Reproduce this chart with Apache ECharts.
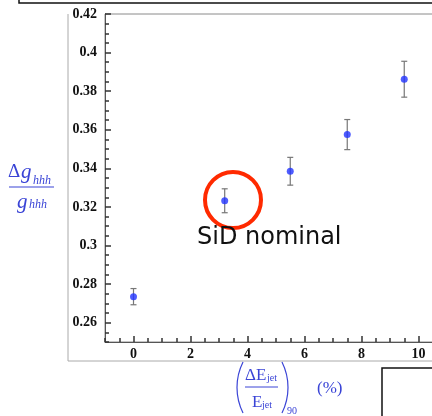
<!DOCTYPE html>
<html>
<head>
<meta charset="utf-8">
<script src="https://cdn.jsdelivr.net/npm/echarts@6/dist/echarts.min.js"></script>
<style>
  html, body { margin: 0; padding: 0; background: #fff; }
  #chart { width: 432px; height: 416px; }
</style>
</head>
<body>
<div id="chart"></div>
<script>
// jet energy resolution (%) vs relative error on g_hhh
var resolution = [0, 3.2, 5.5, 7.5, 9.5];
var deltaG = [0.2735, 0.3232, 0.3385, 0.3575, 0.3862];
var errors = [0.0042, 0.0062, 0.0072, 0.0078, 0.0093];
var xTickLabels = [0, 2, 4, 6, 8, 10];
var yTickLabels = [0.26, 0.28, 0.3, 0.32, 0.34, 0.36, 0.38, 0.4, 0.42];

var chart = echarts.init(document.getElementById('chart'));

var points = resolution.map(function (x, i) { return [x, deltaG[i]]; });
var bars = resolution.map(function (x, i) { return [x, deltaG[i], errors[i]]; });

var blue = '#3a44d6';
var serif = 'Liberation Serif';
var tickColor = '#333';

var option = {
  animation: false,
  grid: {
    left: 105, top: 14, width: 342, height: 328,
    outerBoundsMode: 'none',
    show: true, borderColor: '#8a8a8a'
  },
  xAxis: [{
    type: 'value', min: -1, max: 11, position: 'bottom',
    axisLine: { onZero: false, lineStyle: { color: '#555' } },
    axisTick: { show: true, inside: true, length: 6, customValues: xTickLabels, lineStyle: { color: tickColor, width: 1.5 } },
    axisLabel: {
      customValues: xTickLabels, margin: 5,
      fontFamily: serif, fontWeight: 'bold', fontSize: 14, color: '#111'
    },
    splitLine: { show: false }
  }, {
    type: 'value', min: -1, max: 11, interval: 0.5, position: 'bottom',
    axisLine: { show: false, onZero: false },
    axisTick: { show: true, inside: true, length: 4, lineStyle: { color: tickColor, width: 1.5 } },
    axisLabel: { show: false },
    splitLine: { show: false }
  }],
  yAxis: [{
    type: 'value', min: 0.25, max: 0.42, position: 'left',
    axisLine: { show: true, onZero: false, lineStyle: { color: '#555' } },
    axisTick: { show: true, inside: true, length: 6, customValues: yTickLabels, lineStyle: { color: tickColor, width: 1.5 } },
    axisLabel: {
      customValues: yTickLabels, margin: 8,
      fontFamily: serif, fontWeight: 'bold', fontSize: 14, color: '#111'
    },
    splitLine: { show: false }
  }, {
    type: 'value', min: 0.25, max: 0.42, interval: 0.005, position: 'left',
    axisLine: { show: false, onZero: false },
    axisTick: { show: true, inside: true, length: 4, lineStyle: { color: tickColor, width: 1.5 } },
    axisLabel: { show: false },
    splitLine: { show: false }
  }],
  series: [{
    type: 'custom',
    data: bars,
    renderItem: function (params, api) {
      var x = api.value(0), y = api.value(1), e = api.value(2);
      var top = api.coord([x, y + e]);
      var bot = api.coord([x, y - e]);
      var st = { stroke: '#777', lineWidth: 1.2 };
      return {
        type: 'group',
        children: [
          { type: 'line', shape: { x1: top[0], y1: top[1], x2: bot[0], y2: bot[1] }, style: st },
          { type: 'line', shape: { x1: top[0] - 3, y1: top[1], x2: top[0] + 3, y2: top[1] }, style: st },
          { type: 'line', shape: { x1: bot[0] - 3, y1: bot[1], x2: bot[0] + 3, y2: bot[1] }, style: st }
        ]
      };
    }
  }, {
    type: 'scatter',
    data: points,
    symbolSize: 7,
    z: 3,
    itemStyle: { color: '#2233ff' }
  }],
  graphic: [
    // surrounding frames
    { type: 'polyline', shape: { points: [[68, 14], [68, 361], [440, 361]] }, style: { stroke: '#aaa', fill: null, lineWidth: 1 } },
    { type: 'polyline', shape: { points: [[19, 0], [19, 3], [440, 3]] }, style: { stroke: '#111', fill: null, lineWidth: 1.5 } },
    { type: 'rect', shape: { x: 382, y: 368, width: 60, height: 60 }, style: { stroke: '#111', fill: null, lineWidth: 1.5 } },
    // annotation
    { type: 'circle', shape: { cx: 233, cy: 200, r: 28 }, style: { stroke: '#ff2a00', fill: null, lineWidth: 4 }, z: 10 },
    { type: 'text', x: 197, y: 226, style: { text: 'SiD nominal', fontFamily: 'DejaVu Sans', fontSize: 24, fill: '#111' }, z: 10 },
    // y axis name
    { type: 'text', x: 8, y: 163, style: { text: 'Δ', fontFamily: serif, fontSize: 19, fill: blue } },
    { type: 'text', x: 21, y: 162, style: { text: 'g', fontFamily: serif, fontStyle: 'italic', fontSize: 21, fill: blue } },
    { type: 'text', x: 33, y: 175, style: { text: 'hhh', fontFamily: serif, fontStyle: 'italic', fontSize: 12, fill: blue } },
    { type: 'line', shape: { x1: 9, y1: 187, x2: 54, y2: 187 }, style: { stroke: blue, lineWidth: 1.2 } },
    { type: 'text', x: 17, y: 192, style: { text: 'g', fontFamily: serif, fontStyle: 'italic', fontSize: 21, fill: blue } },
    { type: 'text', x: 29, y: 199, style: { text: 'hhh', fontFamily: serif, fontStyle: 'italic', fontSize: 12, fill: blue } },
    // x axis name
    { type: 'arc', shape: { cx: 294, cy: 387.5, r: 57, startAngle: Math.PI - 0.464, endAngle: Math.PI + 0.464 }, style: { stroke: blue, fill: null, lineWidth: 1.2 } },
    { type: 'arc', shape: { cx: 231, cy: 387.5, r: 57, startAngle: -0.464, endAngle: 0.464 }, style: { stroke: blue, fill: null, lineWidth: 1.2 } },
    { type: 'text', x: 245, y: 367, style: { text: 'ΔE', fontFamily: serif, fontSize: 17, fill: blue } },
    { type: 'text', x: 267, y: 373, style: { text: 'jet', fontFamily: serif, fontSize: 10, fill: blue } },
    { type: 'line', shape: { x1: 245, y1: 387, x2: 278, y2: 387 }, style: { stroke: blue, lineWidth: 1 } },
    { type: 'text', x: 252, y: 394, style: { text: 'E', fontFamily: serif, fontSize: 17, fill: blue } },
    { type: 'text', x: 262, y: 400, style: { text: 'jet', fontFamily: serif, fontSize: 10, fill: blue } },
    { type: 'text', x: 287, y: 406, style: { text: '90', fontFamily: serif, fontSize: 10, fill: blue } },
    { type: 'text', x: 317, y: 380, style: { text: '(%)', fontFamily: serif, fontSize: 17, fill: blue } }
  ]
};

chart.setOption(option);
</script>
</body>
</html>
